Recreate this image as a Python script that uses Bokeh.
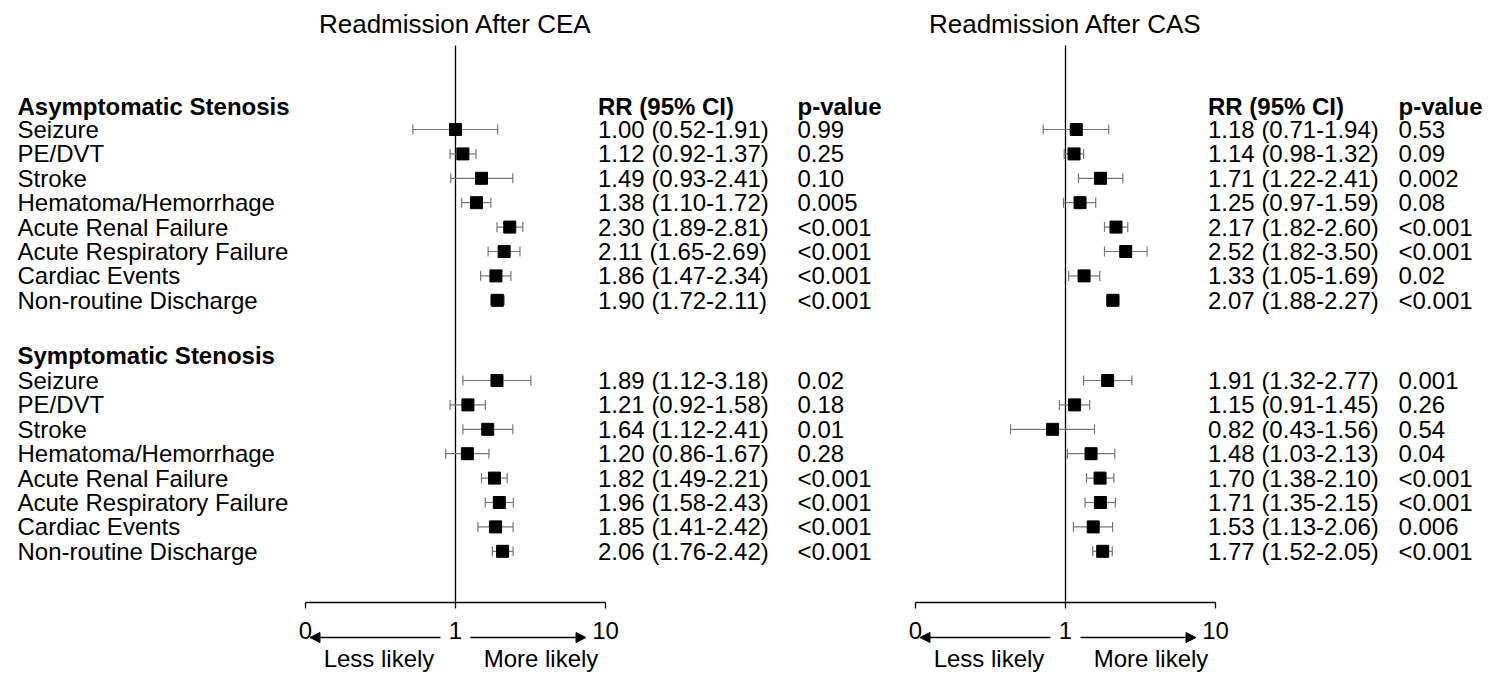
import numpy as np
from bokeh.plotting import figure
from bokeh.layouts import row
from bokeh.models import Range1d, Arrow, NormalHead
from bokeh.core.properties import value
from bokeh.embed import file_html
from bokeh.resources import INLINE

FONT = "Liberation Sans"

outcomes = ["Seizure", "PE/DVT", "Stroke", "Hematoma/Hemorrhage", "Acute Renal Failure",
            "Acute Respiratory Failure", "Cardiac Events", "Non-routine Discharge"]
groups = ["Asymptomatic Stenosis", "Symptomatic Stenosis"]

cea_rr = [1.00, 1.12, 1.49, 1.38, 2.30, 2.11, 1.86, 1.90,
          1.89, 1.21, 1.64, 1.20, 1.82, 1.96, 1.85, 2.06]
cea_lo = [0.52, 0.92, 0.93, 1.10, 1.89, 1.65, 1.47, 1.72,
          1.12, 0.92, 1.12, 0.86, 1.49, 1.58, 1.41, 1.76]
cea_hi = [1.91, 1.37, 2.41, 1.72, 2.81, 2.69, 2.34, 2.11,
          3.18, 1.58, 2.41, 1.67, 2.21, 2.43, 2.42, 2.42]
cea_p = ["0.99", "0.25", "0.10", "0.005", "<0.001", "<0.001", "<0.001", "<0.001",
         "0.02", "0.18", "0.01", "0.28", "<0.001", "<0.001", "<0.001", "<0.001"]

cas_rr = [1.18, 1.14, 1.71, 1.25, 2.17, 2.52, 1.33, 2.07,
          1.91, 1.15, 0.82, 1.48, 1.70, 1.71, 1.53, 1.77]
cas_lo = [0.71, 0.98, 1.22, 0.97, 1.82, 1.82, 1.05, 1.88,
          1.32, 0.91, 0.43, 1.03, 1.38, 1.35, 1.13, 1.52]
cas_hi = [1.94, 1.32, 2.41, 1.59, 2.60, 3.50, 1.69, 2.27,
          2.77, 1.45, 1.56, 2.13, 2.10, 2.15, 2.06, 2.05]
cas_p = ["0.53", "0.09", "0.002", "0.08", "<0.001", "<0.001", "0.02", "<0.001",
         "0.001", "0.26", "0.54", "0.04", "<0.001", "<0.001", "0.006", "<0.001"]

# page-pixel y positions for each row
row_y = [129 + i * 24.4 for i in range(8)] + [380 + i * 24.4 for i in range(8)]
head_y = [106, 355]
AXIS_Y = 602


def panel(title, rr, lo, hi, pv, width, one_px, px, show_labels):
    p = figure(width=width, height=674, output_backend="svg", toolbar_location=None,
               x_range=Range1d(-one_px / 150, (width - one_px) / 150),
               y_range=Range1d(674, 0), min_border=0, outline_line_color=None)
    p.axis.visible = False
    p.grid.visible = False

    def txt(x, y, t, size="24px", align="left", bold=False):
        p.text(x=x, y=y, text=t, text_font=value(FONT), text_font_size=size,
               text_align=align, text_baseline="middle",
               text_font_style="bold" if bold else "normal", text_color="black")

    txt([0.0], [23], [title], size="26px", align="center")
    # reference line and axis
    p.segment(x0=[0], y0=[45], x1=[0], y1=[AXIS_Y], line_color="black", line_width=1.3)
    p.segment(x0=[-1], y0=[AXIS_Y], x1=[1], y1=[AXIS_Y], line_color="black", line_width=1.3)
    p.segment(x0=[-1, 0, 1], y0=[AXIS_Y] * 3, x1=[-1, 0, 1], y1=[AXIS_Y + 6] * 3,
              line_color="black", line_width=1.3)
    txt([-1, 0, 1], [630] * 3, ["0", "1", "10"], align="center")
    head = NormalHead(size=10, fill_color="black", line_color="black")
    p.add_layout(Arrow(end=head, x_start=-0.1, y_start=637, x_end=-0.97, y_end=637,
                       line_width=1.5))
    head2 = NormalHead(size=10, fill_color="black", line_color="black")
    p.add_layout(Arrow(end=head2, x_start=0.1, y_start=637, x_end=0.87, y_end=637,
                       line_width=1.5))
    txt([-0.51, 0.57], [658, 658], ["Less likely", "More likely"], align="center")

    lx, llo, lhi = np.log10(rr), np.log10(lo), np.log10(hi)
    p.segment(x0=llo, y0=row_y, x1=lhi, y1=row_y, line_color="#777777", line_width=1.2)
    p.segment(x0=llo, y0=[y - 5 for y in row_y], x1=llo, y1=[y + 5 for y in row_y],
              line_color="#777777", line_width=1.2)
    p.segment(x0=lhi, y0=[y - 5 for y in row_y], x1=lhi, y1=[y + 5 for y in row_y],
              line_color="#777777", line_width=1.2)
    p.scatter(x=lx, y=row_y, marker="square", size=12, color="black")

    rx = 0.95
    txt([rx, px], [head_y[0]] * 2, ["RR (95% CI)", "p-value"], bold=True)
    labels = [f"{a:.2f} ({b:.2f}-{c:.2f})" for a, b, c in zip(rr, lo, hi)]
    txt([rx] * 16, row_y, labels)
    txt([px] * 16, row_y, pv)
    if show_labels:
        lxp = (17 - one_px) / 150
        txt([lxp, lxp], head_y, groups, bold=True)
        txt([lxp] * 16, row_y, outcomes + outcomes)
    return p


left = panel("Readmission After CEA", cea_rr, cea_lo, cea_hi, cea_p, 898, 455, 2.28, True)
right = panel("Readmission After CAS", cas_rr, cas_lo, cas_hi, cas_p, 605, 167, 2.22, False)
p = row(left, right)

open("out.html", "w").write(file_html(p, INLINE))
